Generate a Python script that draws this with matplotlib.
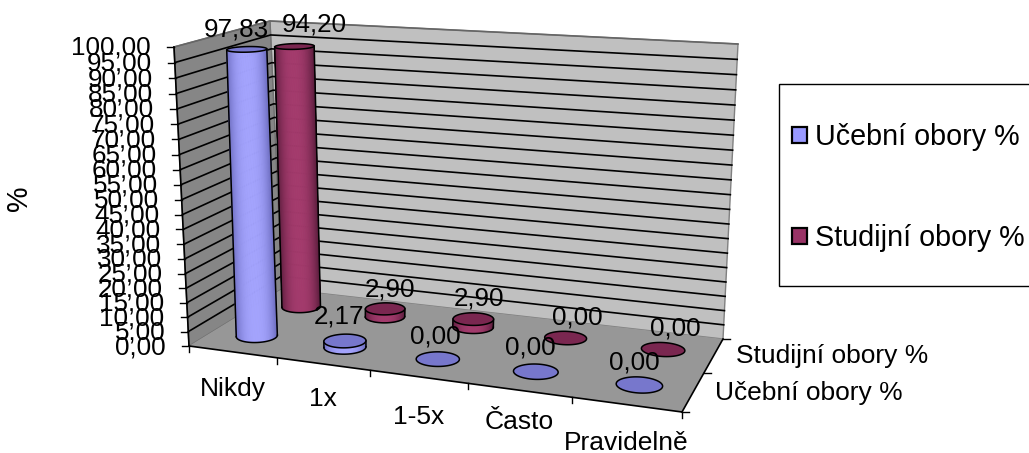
import numpy as np
import matplotlib
matplotlib.use("Agg")
import matplotlib.pyplot as plt
from matplotlib.collections import PolyCollection
from matplotlib.patches import Rectangle, Polygon

plt.rcParams['font.family'] = ['Liberation Sans', 'DejaVu Sans']

# ---- data ----
categories = ['Nikdy', '1x', '1-5x', 'Často', 'Pravidelně']
series_names = ['Učební obory %', 'Studijní obory %']
ucebni = [97.83, 2.17, 0.00, 0.00, 0.00]
studijni = [94.20, 2.90, 2.90, 0.00, 0.00]
value_ticks = list(range(0, 101, 5))

# ---- style / layout ----
W, H = 1029, 453
FS_TICK = 18.7
FS_CAT = 19.0
FS_LEG = 20.7
floor_corners = [(189, 346), (682, 412), (723, 339), (282, 289)]
top_corners = [(174, 47), (652, 70), (738, 44), (270, 21)]
K = 1.044
RU, RD = 0.0425, 0.10
TAPER = 0.14
blue = dict(center='#A4A4FF', edge='#6E6EC0', top='#7777CC')
purple = dict(center='#A33A6C', edge='#5C1E3E', top='#7A2750')
label_off = [[(-10, -21), (-6, -25), (-2, -24), (-5, -25), (-5, -23)],
             [(20, -23), (5, -20), (6, -22), (12, -21), (12, -22)]]
cat_off = [37, 35, 40, 32, 38]


def homography(pts):
    src = [(0, 0), (1, 0), (1, 1), (0, 1)]
    A, b = [], []
    for (x, y), (X, Y) in zip(src, pts):
        A.append([x, y, 1, 0, 0, 0, -x * X, -y * X]); b.append(X)
        A.append([0, 0, 0, x, y, 1, -x * Y, -y * Y]); b.append(Y)
    h = np.linalg.solve(np.array(A, float), np.array(b, float))
    return np.append(h, 1).reshape(3, 3)


H0, H1 = homography(floor_corners), homography(top_corners)


def apply(M, u, d):
    p = M @ np.array([u, d, np.ones_like(u)], float)
    return p[:2] / p[2]


def proj(u, d, v):
    u, d = np.asarray(u, float), np.asarray(d, float)
    s = np.asarray(v, float) / 100.0
    t = s / (s + K * (1 - s))
    return (1 - t) * apply(H0, u, d) + t * apply(H1, u, d)


fig = plt.figure(figsize=(W / 100, H / 100), dpi=100)
ax = fig.add_axes([0, 0, 1, 1])
ax.set_xlim(0, W)
ax.set_ylim(H, 0)
ax.axis('off')


def P(u, d, v):
    return tuple(proj(u, d, v))


# walls and floor
ax.add_patch(Polygon([P(0, 1, 0), P(1, 1, 0), P(1, 1, 100), P(0, 1, 100)], fc='#C0C0C0', ec='#808080', lw=1, zorder=1))
ax.add_patch(Polygon([P(0, 0, 0), P(0, 1, 0), P(0, 1, 100), P(0, 0, 100)], fc='#868686', ec='#707070', lw=1, zorder=1))
ax.add_patch(Polygon([P(0, 0, 0), P(1, 0, 0), P(1, 1, 0), P(0, 1, 0)], fc='#979797', ec='none', zorder=1.5))

# gridlines
for v in value_ticks[1:]:
    pts = np.array([P(0, 0, v), P(0, 1, v), P(1, 1, v)])
    ax.plot(pts[:, 0], pts[:, 1], color='black' if v < 100 else '#666666', lw=1.2, zorder=2)

# axes lines and ticks
for a, b in [((0, 0, 0), (1, 0, 0)), ((1, 0, 0), (1, 1, 0)), ((0, 0, 0), (0, 0, 100))]:
    p, q = P(*a), P(*b)
    ax.plot([p[0], q[0]], [p[1], q[1]], color='black', lw=1.2, zorder=3)
for v in value_ticks:
    x, y = P(0, 0, v)
    ax.plot([x - 7, x], [y, y], color='black', lw=1, zorder=3)
    ax.text(x - 23, y + 1, f'{v:.2f}'.replace('.', ','), ha='right', va='center', fontsize=FS_TICK, zorder=8)
for i in range(len(categories) + 1):
    x, y = P(i / len(categories), 0, 0)
    ax.plot([x, x], [y, y + 6], color='black', lw=1, zorder=3)
for d in (0, 0.5, 1):
    x, y = P(1, d, 0)
    ax.plot([x, x + 7], [y, y], color='black', lw=1, zorder=3)


def mix(c1, c2, a):
    c1, c2 = np.array(matplotlib.colors.to_rgb(c1)), np.array(matplotlib.colors.to_rgb(c2))
    return tuple(c1 * (1 - a) + c2 * a)


def cylinder(u, d, v, st, z):
    th = np.linspace(0, 2 * np.pi, 181)[:-1]
    uu, dd = u + RU * np.cos(th), d + RD * np.sin(th)
    ut = u + RU * (1 - TAPER * v / 100) * np.cos(th)
    bot = proj(uu, dd, np.zeros_like(th)).T
    top = proj(ut, dd, np.full_like(th, v)).T
    if v > 0:
        imin, imax = np.argmin(bot[:, 0]), np.argmax(bot[:, 0])
        n = (imax - imin) % len(th)
        idx = (imin + np.arange(n + 1)) % len(th)
        cx, r = bot[:, 0].mean(), np.ptp(bot[:, 0]) / 2
        polys, cols = [], []
        for a, b in zip(idx[:-1], idx[1:]):
            polys.append([bot[a], bot[b], top[b], top[a]])
            s = abs(((bot[a, 0] + bot[b, 0]) / 2 - cx) / r)
            cols.append(mix(st['center'], st['edge'], s ** 2.5))
        ax.add_collection(PolyCollection(polys, facecolors=cols, edgecolors=cols, linewidths=0.4, zorder=z))
        ax.plot(bot[idx, 0], bot[idx, 1], color='black', lw=1.1, zorder=z + 0.1)
        for i in (idx[0], idx[-1]):
            ax.plot([bot[i, 0], top[i, 0]], [bot[i, 1], top[i, 1]], color='black', lw=1.1, zorder=z + 0.1)
    ax.add_patch(Polygon(top, closed=True, fc=st['top'], ec='black', lw=1.1, zorder=z + 0.2))


n = len(categories)
for s, (vals, st, d) in enumerate([(studijni, purple, 0.75), (ucebni, blue, 0.25)]):
    sidx = 1 - s
    for i, v in enumerate(vals):
        u = (i + 0.5) / n
        cylinder(u, d, v, st, 4 + s + i * 0.01)
        x, y = P(u, d, v)
        dx, dy = label_off[sidx][i]
        ax.text(x + dx, y + dy + 1, f'{v:.2f}'.replace('.', ','), ha='center', va='center',
                fontsize=FS_TICK, zorder=9)

# category labels
for i, c in enumerate(categories):
    x, y = P((i + 0.5) / n, 0, 0)
    ax.text(x, y + cat_off[i], c, ha='center', va='center', fontsize=FS_CAT, zorder=8)

# series labels on the depth axis
for name, d in zip(series_names, (0.25, 0.75)):
    x, y = P(1, d, 0)
    ax.text(x + 22, y + 1, name, ha='left', va='center', fontsize=FS_CAT, zorder=8)

ax.text(19, 198, '%', rotation=90, ha='center', va='center', fontsize=FS_LEG)

# legend
ax.add_patch(Rectangle((778.5, 84), 300, 202, fc='white', ec='black', lw=1, zorder=6))
for name, st, y in zip(series_names, (blue, purple), (135, 236)):
    col = '#9999FF' if st is blue else '#993366'
    ax.add_patch(Rectangle((792, y - 8), 15, 16, fc=col, ec='black', lw=1.6, zorder=7))
    ax.text(815, y + 2, name, ha='left', va='center', fontsize=FS_LEG, zorder=8)

fig.savefig('out.png', dpi=100)
